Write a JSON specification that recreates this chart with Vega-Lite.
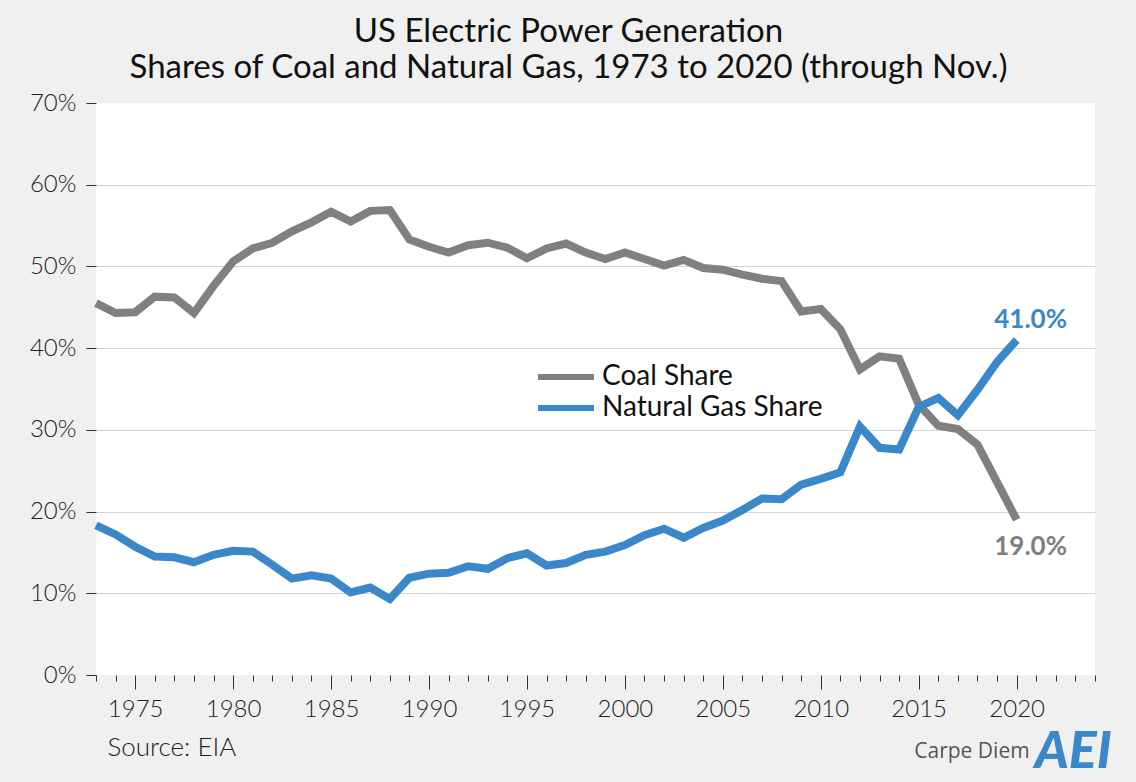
{
  "$schema": "https://vega.github.io/schema/vega-lite/v6.json",
  "width": 999,
  "height": 572,
  "autosize": {"type": "none"},
  "padding": {"left": 96, "top": 103, "right": 41, "bottom": 107},
  "background": "#f0f0f0",
  "config": {
    "view": {"fill": "#ffffff", "stroke": null},
    "font": "Lato"
  },
  "title": {
    "text": ["US Electric Power Generation", "Shares of Coal and Natural Gas, 1973 to 2020 (through Nov.)"],
    "font": "Lato",
    "fontSize": 33,
    "fontWeight": "normal",
    "color": "#111111",
    "anchor": "middle",
    "dx": -27,
    "dy": 41,
    "lineHeight": 36,
    "baseline": "bottom",
    "offset": 14
  },
  "data": {
    "values": [
      {"year": 1973, "fuel": "Coal Share", "share": 0.455},
      {"year": 1974, "fuel": "Coal Share", "share": 0.443},
      {"year": 1975, "fuel": "Coal Share", "share": 0.444},
      {"year": 1976, "fuel": "Coal Share", "share": 0.463},
      {"year": 1977, "fuel": "Coal Share", "share": 0.462},
      {"year": 1978, "fuel": "Coal Share", "share": 0.443},
      {"year": 1979, "fuel": "Coal Share", "share": 0.476},
      {"year": 1980, "fuel": "Coal Share", "share": 0.506},
      {"year": 1981, "fuel": "Coal Share", "share": 0.522},
      {"year": 1982, "fuel": "Coal Share", "share": 0.529},
      {"year": 1983, "fuel": "Coal Share", "share": 0.543},
      {"year": 1984, "fuel": "Coal Share", "share": 0.554},
      {"year": 1985, "fuel": "Coal Share", "share": 0.567},
      {"year": 1986, "fuel": "Coal Share", "share": 0.555},
      {"year": 1987, "fuel": "Coal Share", "share": 0.568},
      {"year": 1988, "fuel": "Coal Share", "share": 0.569},
      {"year": 1989, "fuel": "Coal Share", "share": 0.533},
      {"year": 1990, "fuel": "Coal Share", "share": 0.524},
      {"year": 1991, "fuel": "Coal Share", "share": 0.517},
      {"year": 1992, "fuel": "Coal Share", "share": 0.526},
      {"year": 1993, "fuel": "Coal Share", "share": 0.529},
      {"year": 1994, "fuel": "Coal Share", "share": 0.523},
      {"year": 1995, "fuel": "Coal Share", "share": 0.510},
      {"year": 1996, "fuel": "Coal Share", "share": 0.522},
      {"year": 1997, "fuel": "Coal Share", "share": 0.528},
      {"year": 1998, "fuel": "Coal Share", "share": 0.517},
      {"year": 1999, "fuel": "Coal Share", "share": 0.509},
      {"year": 2000, "fuel": "Coal Share", "share": 0.517},
      {"year": 2001, "fuel": "Coal Share", "share": 0.509},
      {"year": 2002, "fuel": "Coal Share", "share": 0.501},
      {"year": 2003, "fuel": "Coal Share", "share": 0.508},
      {"year": 2004, "fuel": "Coal Share", "share": 0.498},
      {"year": 2005, "fuel": "Coal Share", "share": 0.496},
      {"year": 2006, "fuel": "Coal Share", "share": 0.490},
      {"year": 2007, "fuel": "Coal Share", "share": 0.485},
      {"year": 2008, "fuel": "Coal Share", "share": 0.482},
      {"year": 2009, "fuel": "Coal Share", "share": 0.445},
      {"year": 2010, "fuel": "Coal Share", "share": 0.448},
      {"year": 2011, "fuel": "Coal Share", "share": 0.423},
      {"year": 2012, "fuel": "Coal Share", "share": 0.374},
      {"year": 2013, "fuel": "Coal Share", "share": 0.390},
      {"year": 2014, "fuel": "Coal Share", "share": 0.387},
      {"year": 2015, "fuel": "Coal Share", "share": 0.331},
      {"year": 2016, "fuel": "Coal Share", "share": 0.305},
      {"year": 2017, "fuel": "Coal Share", "share": 0.301},
      {"year": 2018, "fuel": "Coal Share", "share": 0.282},
      {"year": 2019, "fuel": "Coal Share", "share": 0.236},
      {"year": 2020, "fuel": "Coal Share", "share": 0.190},
      {"year": 1973, "fuel": "Natural Gas Share", "share": 0.183},
      {"year": 1974, "fuel": "Natural Gas Share", "share": 0.172},
      {"year": 1975, "fuel": "Natural Gas Share", "share": 0.157},
      {"year": 1976, "fuel": "Natural Gas Share", "share": 0.145},
      {"year": 1977, "fuel": "Natural Gas Share", "share": 0.144},
      {"year": 1978, "fuel": "Natural Gas Share", "share": 0.138},
      {"year": 1979, "fuel": "Natural Gas Share", "share": 0.147},
      {"year": 1980, "fuel": "Natural Gas Share", "share": 0.152},
      {"year": 1981, "fuel": "Natural Gas Share", "share": 0.151},
      {"year": 1982, "fuel": "Natural Gas Share", "share": 0.135},
      {"year": 1983, "fuel": "Natural Gas Share", "share": 0.118},
      {"year": 1984, "fuel": "Natural Gas Share", "share": 0.122},
      {"year": 1985, "fuel": "Natural Gas Share", "share": 0.118},
      {"year": 1986, "fuel": "Natural Gas Share", "share": 0.101},
      {"year": 1987, "fuel": "Natural Gas Share", "share": 0.107},
      {"year": 1988, "fuel": "Natural Gas Share", "share": 0.093},
      {"year": 1989, "fuel": "Natural Gas Share", "share": 0.119},
      {"year": 1990, "fuel": "Natural Gas Share", "share": 0.124},
      {"year": 1991, "fuel": "Natural Gas Share", "share": 0.125},
      {"year": 1992, "fuel": "Natural Gas Share", "share": 0.133},
      {"year": 1993, "fuel": "Natural Gas Share", "share": 0.130},
      {"year": 1994, "fuel": "Natural Gas Share", "share": 0.143},
      {"year": 1995, "fuel": "Natural Gas Share", "share": 0.149},
      {"year": 1996, "fuel": "Natural Gas Share", "share": 0.134},
      {"year": 1997, "fuel": "Natural Gas Share", "share": 0.137},
      {"year": 1998, "fuel": "Natural Gas Share", "share": 0.147},
      {"year": 1999, "fuel": "Natural Gas Share", "share": 0.151},
      {"year": 2000, "fuel": "Natural Gas Share", "share": 0.159},
      {"year": 2001, "fuel": "Natural Gas Share", "share": 0.171},
      {"year": 2002, "fuel": "Natural Gas Share", "share": 0.179},
      {"year": 2003, "fuel": "Natural Gas Share", "share": 0.168},
      {"year": 2004, "fuel": "Natural Gas Share", "share": 0.180},
      {"year": 2005, "fuel": "Natural Gas Share", "share": 0.189},
      {"year": 2006, "fuel": "Natural Gas Share", "share": 0.202},
      {"year": 2007, "fuel": "Natural Gas Share", "share": 0.216},
      {"year": 2008, "fuel": "Natural Gas Share", "share": 0.215},
      {"year": 2009, "fuel": "Natural Gas Share", "share": 0.233},
      {"year": 2010, "fuel": "Natural Gas Share", "share": 0.240},
      {"year": 2011, "fuel": "Natural Gas Share", "share": 0.248},
      {"year": 2012, "fuel": "Natural Gas Share", "share": 0.304},
      {"year": 2013, "fuel": "Natural Gas Share", "share": 0.278},
      {"year": 2014, "fuel": "Natural Gas Share", "share": 0.276},
      {"year": 2015, "fuel": "Natural Gas Share", "share": 0.328},
      {"year": 2016, "fuel": "Natural Gas Share", "share": 0.339},
      {"year": 2017, "fuel": "Natural Gas Share", "share": 0.318},
      {"year": 2018, "fuel": "Natural Gas Share", "share": 0.349},
      {"year": 2019, "fuel": "Natural Gas Share", "share": 0.383},
      {"year": 2020, "fuel": "Natural Gas Share", "share": 0.410}
    ]
  },
  "encoding": {
    "x": {
      "field": "year",
      "type": "quantitative",
      "scale": {"domain": [1973, 2024], "nice": false, "zero": false},
      "axis": {
        "values": [1973, 1974, 1975, 1976, 1977, 1978, 1979, 1980, 1981, 1982, 1983, 1984, 1985, 1986, 1987, 1988, 1989, 1990, 1991, 1992, 1993, 1994, 1995, 1996, 1997, 1998, 1999, 2000, 2001, 2002, 2003, 2004, 2005, 2006, 2007, 2008, 2009, 2010, 2011, 2012, 2013, 2014, 2015, 2016, 2017, 2018, 2019, 2020, 2021, 2022, 2023, 2024],
        "labelExpr": "datum.value % 5 === 0 ? '' + datum.value : ''",
        "labelFlush": false,
        "labelOverlap": false,
        "tickSize": {"condition": {"test": "datum.value % 5 === 0", "value": 14}, "value": 6},
        "tickColor": "#333333",
        "tickWidth": 1,
        "domain": false,
        "grid": false,
        "labelFont": "Lato",
        "labelFontSize": 24,
        "labelFontWeight": 300,
        "labelColor": "#222222",
        "labelPadding": 8,
        "title": "Source: EIA",
        "titleFont": "Lato",
        "titleFontSize": 26,
        "titleFontWeight": 300,
        "titleColor": "#222222",
        "titleAnchor": "start",
        "titleAlign": "left",
        "titleBaseline": "alphabetic",
        "titleX": 11,
        "titleY": 80
      }
    },
    "y": {
      "field": "share",
      "type": "quantitative",
      "scale": {"domain": [0, 0.7], "nice": false},
      "axis": {
        "values": [0, 0.1, 0.2, 0.3, 0.4, 0.5, 0.6, 0.7],
        "format": ".0%",
        "tickSize": 10,
        "tickColor": "#333333",
        "domain": false,
        "grid": true,
        "gridColor": "#d2d2d2",
        "gridWidth": 1,
        "gridOpacity": {"condition": {"test": "datum.value === 0 || datum.value >= 0.69", "value": 0}, "value": 1},
        "labelFont": "Lato",
        "labelFontSize": 24,
        "labelFontWeight": 300,
        "labelColor": "#222222",
        "labelPadding": 10,
        "title": null
      }
    }
  },
  "layer": [
    {
      "mark": {"type": "line", "strokeWidth": 8, "strokeJoin": "miter"},
      "encoding": {
        "color": {
          "field": "fuel",
          "type": "nominal",
          "scale": {"domain": ["Coal Share", "Natural Gas Share"], "range": ["#808080", "#3a87c9"]},
          "legend": {
            "orient": "none",
            "legendX": 453,
            "legendY": 257,
            "title": null,
            "symbolType": "M-2,0H2",
            "symbolSize": 784,
            "symbolStrokeWidth": 6,
            "symbolStrokeCap": "round",
            "labelFont": "Lato",
            "labelFontSize": 28,
            "labelLimit": 500,
            "labelColor": "#111111",
            "labelOffset": 19,
            "rowPadding": -2,
            "padding": 0
          }
        }
      }
    },
    {
      "transform": [{"filter": "datum.year === 2020 && datum.fuel === 'Natural Gas Share'"}],
      "mark": {"type": "text", "font": "Lato", "fontSize": 26, "fontWeight": "bold", "color": "#3a87c9", "align": "center", "baseline": "middle", "dx": 14, "dy": -20},
      "encoding": {"text": {"field": "share", "type": "quantitative", "format": ".1%"}}
    },
    {
      "transform": [{"filter": "datum.year === 2020 && datum.fuel === 'Coal Share'"}],
      "mark": {"type": "text", "font": "Lato", "fontSize": 26, "fontWeight": "bold", "color": "#808080", "align": "center", "baseline": "middle", "dx": 14, "dy": 27},
      "encoding": {"text": {"field": "share", "type": "quantitative", "format": ".1%"}}
    },
    {
      "transform": [{"filter": "datum.year === 2020 && datum.fuel === 'Coal Share'"}],
      "mark": {"type": "text", "font": "Open Sans", "fontSize": 21, "color": "#555555", "align": "right", "baseline": "middle", "dx": 13, "dy": 232},
      "encoding": {"text": {"value": "Carpe Diem"}}
    },
    {
      "transform": [{"filter": "datum.year === 2020 && datum.fuel === 'Coal Share'"}],
      "mark": {"type": "text", "font": "Lato", "fontSize": 52, "fontWeight": 900, "fontStyle": "italic", "color": "#3a87c9", "align": "left", "baseline": "middle", "dx": 18, "dy": 232},
      "encoding": {"text": {"value": "AEI"}}
    }
  ]
}
